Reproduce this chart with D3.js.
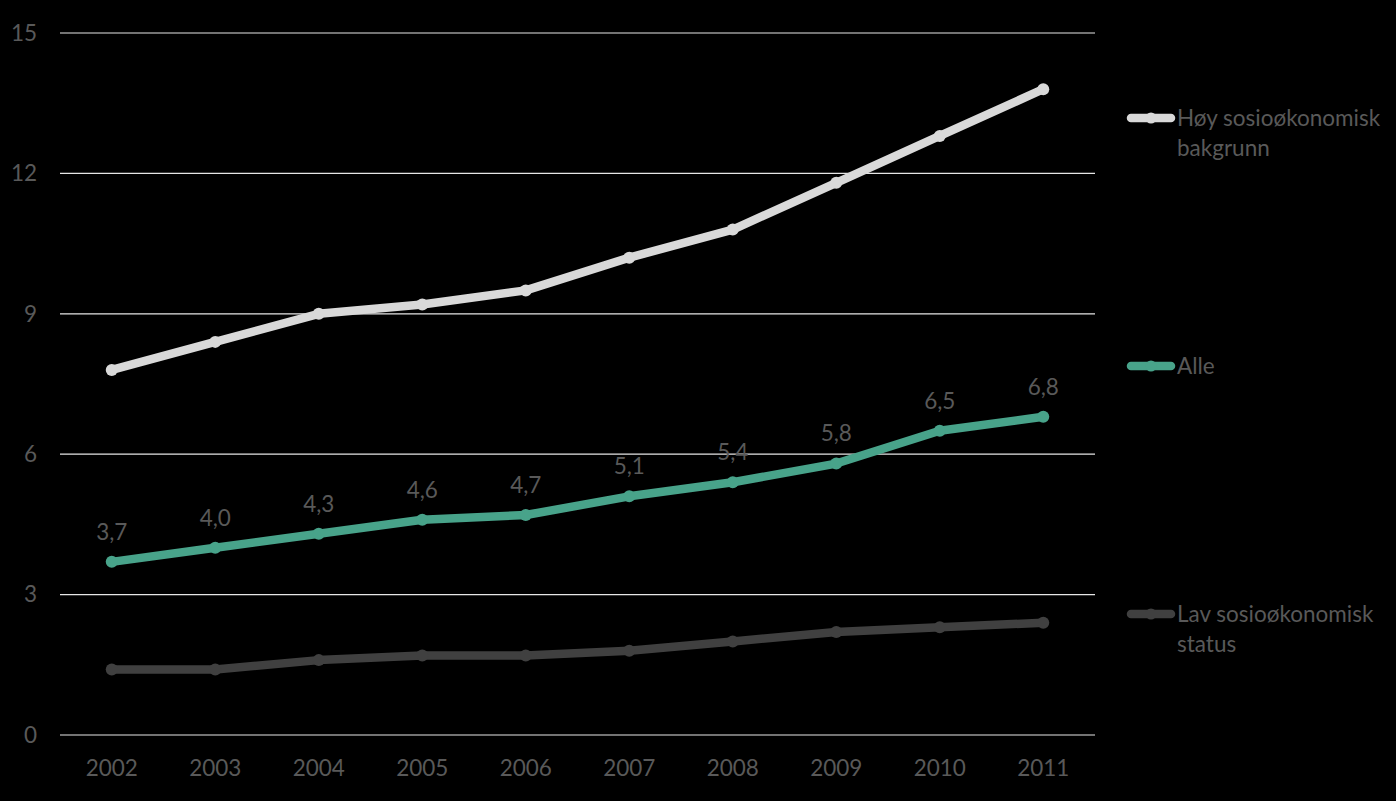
<!DOCTYPE html>
<html>
<head>
<meta charset="utf-8">
<script src="https://cdn.jsdelivr.net/npm/d3@7"></script>
<style>
  html, body { margin: 0; padding: 0; background: #000; }
  svg { display: block; font-family: Lato, "Open Sans", sans-serif; }
</style>
</head>
<body>
<svg id="chart" width="1396" height="801"></svg>
<script>
// ---- data ----
const years = ["2002", "2003", "2004", "2005", "2006", "2007", "2008", "2009", "2010", "2011"];
const hoyValues = [7.8, 8.4, 9.0, 9.2, 9.5, 10.2, 10.8, 11.8, 12.8, 13.8];
const alleValues = [3.7, 4.0, 4.3, 4.6, 4.7, 5.1, 5.4, 5.8, 6.5, 6.8];
const lavValues = [1.4, 1.4, 1.6, 1.7, 1.7, 1.8, 2.0, 2.2, 2.3, 2.4];
const yTicks = [0, 3, 6, 9, 12, 15];

const series = [
  { name: ["Høy sosioøkonomisk", "bakgrunn"], values: hoyValues, color: "#d9d9d9", labels: false },
  { name: ["Alle"], values: alleValues, color: "#48a38a", labels: true },
  { name: ["Lav sosioøkonomisk", "status"], values: lavValues, color: "#404040", labels: false }
];

// ---- layout ----
const margin = { top: 33, right: 301, bottom: 66, left: 60 };
const W = 1396, H = 801;
const width = W - margin.left - margin.right;
const height = H - margin.top - margin.bottom;
const textColor = "#595959";
const fontSize = "22.5px";

const svg = d3.select("#chart");
const g = svg.append("g").attr("transform", `translate(${margin.left},${margin.top})`);

const x = d3.scaleBand().domain(years).range([0, width]);
const y = d3.scaleLinear().domain([0, 15]).range([height, 0]);

// gridlines
g.selectAll(".grid")
  .data(yTicks)
  .enter()
  .append("line")
  .attr("x1", 0)
  .attr("x2", width)
  .attr("y1", d => y(d))
  .attr("y2", d => y(d))
  .attr("stroke", "#e6e6e6")
  .attr("stroke-width", 1.2);

// y axis labels
g.selectAll(".ylab")
  .data(yTicks)
  .enter()
  .append("text")
  .attr("x", -23)
  .attr("y", d => y(d))
  .attr("dy", "0.35em")
  .attr("text-anchor", "end")
  .attr("fill", textColor)
  .style("font-size", fontSize)
  .text(d => d);

// x axis labels
g.selectAll(".xlab")
  .data(years)
  .enter()
  .append("text")
  .attr("x", d => x(d) + x.bandwidth() / 2)
  .attr("y", height + 33)
  .attr("dy", "0.35em")
  .attr("text-anchor", "middle")
  .attr("fill", textColor)
  .style("font-size", fontSize)
  .text(d => d);

// lines
const line = d3.line()
  .x((d, i) => x(years[i]) + x.bandwidth() / 2)
  .y(d => y(d));

series.forEach(s => {
  g.append("path")
    .datum(s.values)
    .attr("fill", "none")
    .attr("stroke", s.color)
    .attr("stroke-width", 8.5)
    .attr("stroke-linejoin", "round")
    .attr("stroke-linecap", "round")
    .attr("d", line);

  g.selectAll(null)
    .data(s.values)
    .enter()
    .append("circle")
    .attr("cx", (d, i) => x(years[i]) + x.bandwidth() / 2)
    .attr("cy", d => y(d))
    .attr("r", 6)
    .attr("fill", s.color);

  if (s.labels) {
    g.selectAll(null)
      .data(s.values)
      .enter()
      .append("text")
      .attr("x", (d, i) => x(years[i]) + x.bandwidth() / 2)
      .attr("y", d => y(d) - 30)
      .attr("dy", "0.35em")
      .attr("text-anchor", "middle")
      .attr("fill", textColor)
      .style("font-size", fontSize)
      .text(d => d3.format(".1f")(d).replace(".", ","));
  }
});

// legend
const legendY = [118, 366, 614];
const legend = svg.append("g");
series.forEach((s, i) => {
  const ly = legendY[i];
  legend.append("line")
    .attr("x1", 1131).attr("x2", 1171)
    .attr("y1", ly).attr("y2", ly)
    .attr("stroke", s.color)
    .attr("stroke-width", 8.5)
    .attr("stroke-linecap", "round");
  legend.append("circle")
    .attr("cx", 1151).attr("cy", ly).attr("r", 5.5)
    .attr("fill", s.color);
  s.name.forEach((t, k) => {
    legend.append("text")
      .attr("x", 1177)
      .attr("y", ly + k * 30)
      .attr("dy", "0.35em")
      .attr("fill", textColor)
      .style("font-size", fontSize)
      .text(t);
  });
});
</script>
</body>
</html>
